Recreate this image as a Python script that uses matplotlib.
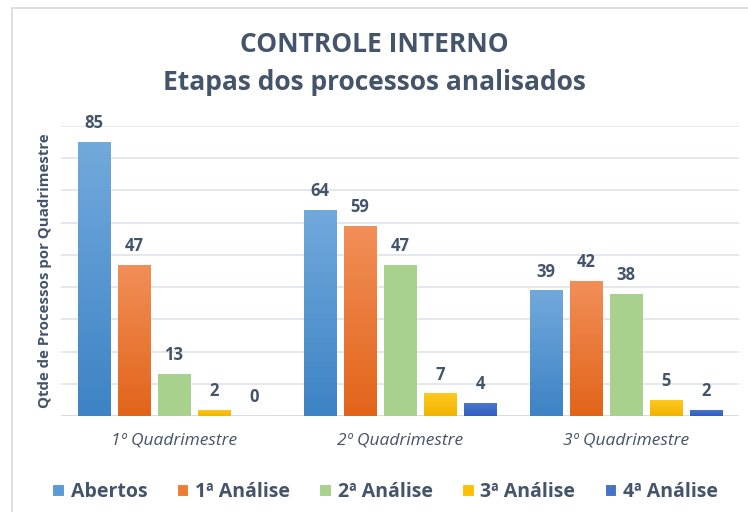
import matplotlib
matplotlib.use("Agg")
import matplotlib.pyplot as plt
import numpy as np
from matplotlib.colors import LinearSegmentedColormap
from matplotlib.patches import Rectangle

categories = ["1º Quadrimestre", "2º Quadrimestre", "3º Quadrimestre"]
series_names = ["Abertos", "1ª Análise", "2ª Análise", "3ª Análise", "4ª Análise"]
abertos = [85, 64, 39]
analise1 = [47, 59, 42]
analise2 = [13, 47, 38]
analise3 = [2, 7, 5]
analise4 = [0, 4, 2]
series_values = [abertos, analise1, analise2, analise3, analise4]

top_colors = ["#72a9dc", "#f18f58", "#a9d18e", "#ffc922", "#4a78cf"]
bot_colors = ["#3d83c5", "#e2641a", "#a9d18e", "#f0b400", "#2f5fbf"]
legend_colors = ["#5b9bd5", "#ed7d31", "#a9d18e", "#ffc000", "#4472c4"]
text_color = "#44546a"

plt.rcParams['font.family'] = ['Open Sans', 'DejaVu Sans']

fig = plt.figure(figsize=(7.48, 5.12), dpi=100)
W, H = 748, 512
ax = fig.add_axes([61 / W, 96 / H, (739 - 61) / W, (416 - 126) / H])

# chart border
fig.patches.append(Rectangle((12 / W, -0.05), 1.0, (504 / H) + 0.05, transform=fig.transFigure,
                             fill=False, edgecolor="#d9d9d9", linewidth=1.2, zorder=0))

x = np.arange(len(categories))
n = len(series_names)
pitch = 0.177
width = 0.142

for i, (name, vals) in enumerate(zip(series_names, series_values)):
    pos = x + (i - (n - 1) / 2) * pitch
    bars = ax.bar(pos, vals, width=width, color=legend_colors[i], edgecolor="white",
                  linewidth=0.8, label=name, zorder=3)
    cmap = LinearSegmentedColormap.from_list("g%d" % i, [bot_colors[i], top_colors[i]])
    for b, v in zip(bars, vals):
        if v > 0:
            x0, y0 = b.get_x(), b.get_y()
            w, h = b.get_width(), b.get_height()
            grad = np.linspace(0, 1, 100).reshape(-1, 1)
            im = ax.imshow(grad, cmap=cmap, origin="lower", aspect="auto",
                           extent=(x0, x0 + w, y0, y0 + h), zorder=3.5)
            im.set_clip_path(b)
        ax.annotate(str(v), (b.get_x() + b.get_width() / 2, v), xytext=(0, 7),
                    textcoords="offset points", ha="center", va="bottom",
                    fontsize=12, fontweight="bold", color=text_color, zorder=5)

ax.set_xlim(-0.5, 2.5)
ax.set_ylim(0, 90)
ax.set_yticks(np.arange(0, 91, 10))
ax.set_yticklabels([])
ax.tick_params(axis="y", length=0)
ax.tick_params(axis="x", length=0, pad=12)
ax.set_xticks(x)
ax.set_xticklabels(categories, fontsize=12.5, style="italic", color=text_color)
ax.grid(axis="y", color="#dfe3e8", linewidth=1.2, zorder=0)
ax.set_axisbelow(True)
for s in ax.spines.values():
    s.set_visible(False)
ax.axhline(0, color="#d9d9d9", linewidth=1.2, zorder=2)

ax.set_ylabel("Qtde de Processos por Quadrimestre", fontsize=10.8, fontweight="bold",
              color=text_color, labelpad=3)

fig.text(0.5, (512 - 45) / H, "CONTROLE INTERNO", ha="center", va="center",
         fontsize=19, fontweight="bold", color=text_color)
fig.text(0.5, (512 - 83) / H, "Etapas dos processos analisados", ha="center", va="center",
         fontsize=19, fontweight="bold", color=text_color)

leg = fig.legend(loc="center", bbox_to_anchor=(0.515, (512 - 492) / H), ncol=5, frameon=False,
                 fontsize=14, handlelength=0.6, handleheight=0.6, handletextpad=0.35,
                 columnspacing=1.5)
for t in leg.get_texts():
    t.set_color(text_color)
    t.set_fontweight("bold")

fig.savefig("out.png", dpi=100)
